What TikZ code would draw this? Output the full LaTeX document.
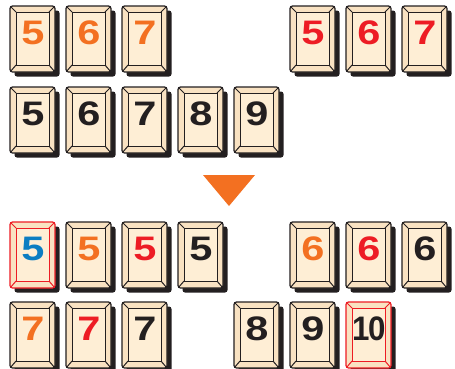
\documentclass[tikz,border=0pt]{standalone}
\usepackage{fontspec}
\setmainfont{Liberation Sans}
\definecolor{cream}{HTML}{FEEED5}
\definecolor{bevel}{HTML}{F9E2C2}
\definecolor{ink}{HTML}{231F20}
\definecolor{tor}{HTML}{F37021}
\definecolor{tred}{HTML}{ED1C24}
\definecolor{tblue}{HTML}{0B7DC2}
\tikzset{
  tileshadow/.style={fill=ink, rounded corners=2.5},
  tileouter/.style={fill=bevel, line width=1.2pt, rounded corners=2.5},
  tileinner/.style={fill=cream, line width=1pt},
  tilebevel/.style={line width=1pt},
  digit/.style={inner sep=0pt, font=\fontsize{34}{34}\selectfont\bfseries},
  arrowtri/.style={fill=tor, draw=none}
}
\newcommand\wide[1]{\scalebox{1.22}[1]{#1}}
% #1 name, #2 x, #3 y, #4 text, #5 text colour, #6 line colour
\newcommand\tile[6]{%
  \begin{scope}[shift={(#2,#3)}]
    \path[tileshadow] (4.5,4.5) rectangle (49.5,70.5);
    \path[tileouter, draw=#6] (0,0) rectangle (45,66);
    \path[tileinner, draw=#6] (6,6) rectangle (39,59);
    \draw[tilebevel, draw=#6] (0.4,0.4) -- (6,6) (44.6,0.4) -- (39,6)
      (0.4,65.6) -- (6,59) (44.6,65.6) -- (39,59);
    \node[digit, text=#5] (#1) at (22.8,27) {#4};
  \end{scope}}
\begin{document}
\begin{tikzpicture}[x=1pt, y=-1pt]
\useasboundingbox (0,0) rectangle (455,368);
% row 1
\tile{a5}{10}{6}{\wide{5}}{tor}{ink}
\tile{a6}{66}{6}{\wide{6}}{tor}{ink}
\tile{a7}{122}{6}{\wide{7}}{tor}{ink}
\tile{b5}{290}{6}{\wide{5}}{tred}{ink}
\tile{b6}{346}{6}{\wide{6}}{tred}{ink}
\tile{b7}{402}{6}{\wide{7}}{tred}{ink}
% row 2
\tile{c5}{10}{87}{\wide{5}}{ink}{ink}
\tile{c6}{66}{87}{\wide{6}}{ink}{ink}
\tile{c7}{122}{87}{\wide{7}}{ink}{ink}
\tile{c8}{178}{87}{\wide{8}}{ink}{ink}
\tile{c9}{234}{87}{\wide{9}}{ink}{ink}
% arrow
\path[arrowtri] (203,175) -- (255,175) -- (229,206) -- cycle;
% row 3
\tile{d1}{10}{222}{\wide{5}}{tblue}{tred}
\tile{d2}{66}{222}{\wide{5}}{tor}{ink}
\tile{d3}{122}{222}{\wide{5}}{tred}{ink}
\tile{d4}{178}{222}{\wide{5}}{ink}{ink}
\tile{e1}{290}{222}{\wide{6}}{tor}{ink}
\tile{e2}{346}{222}{\wide{6}}{tred}{ink}
\tile{e3}{402}{222}{\wide{6}}{ink}{ink}
% row 4
\tile{f1}{10}{302}{\wide{7}}{tor}{ink}
\tile{f2}{66}{302}{\wide{7}}{tred}{ink}
\tile{f3}{122}{302}{\wide{7}}{ink}{ink}
\tile{g1}{234}{302}{\wide{8}}{ink}{ink}
\tile{g2}{290}{302}{\wide{9}}{ink}{ink}
\tile{g3}{346}{302}{\scalebox{0.92}[1]{1\kern-1.5pt0}}{ink}{tred}
\end{tikzpicture}
\end{document}
